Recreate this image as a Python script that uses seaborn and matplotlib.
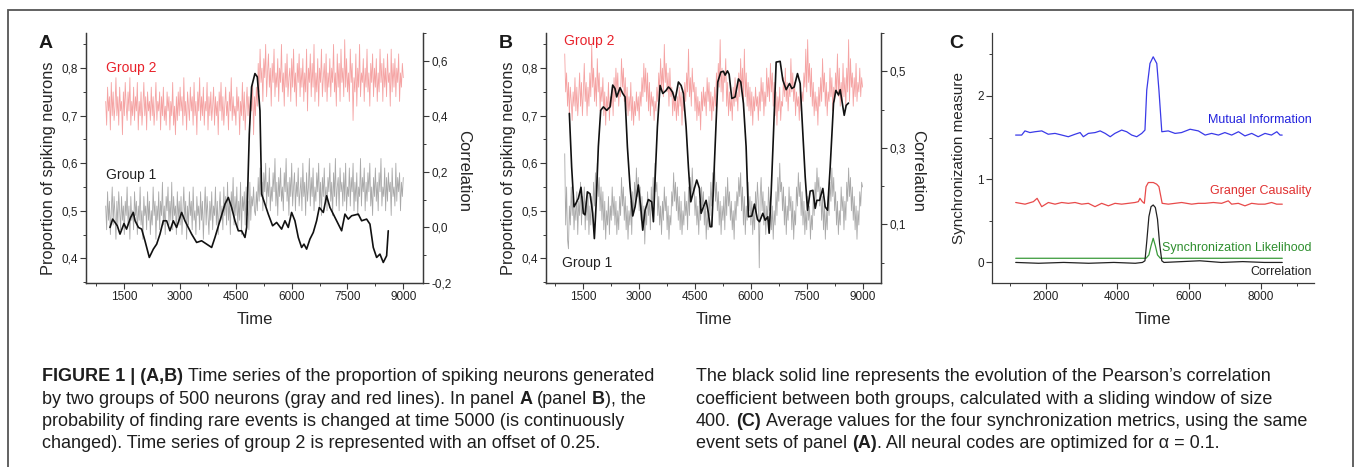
import numpy as np
import matplotlib
matplotlib.use('Agg')
import matplotlib.pyplot as plt
import seaborn as sns
from matplotlib.ticker import MultipleLocator, FixedLocator, FuncFormatter
from matplotlib.patches import Rectangle

# sampling grid of the spiking series (panels A and B)
T = np.arange(1000, 9001, 25)

# panel A, group 2 (offset +0.25) and group 1
A_G2 = [0.73, 0.68, 0.76, 0.71, 0.74, 0.67, 0.77, 0.70, 0.75, 0.69, 0.72, 0.78, 0.70, 0.74, 0.68, 0.76, 0.71, 0.73, 0.66, 0.75,
        0.70, 0.77, 0.72, 0.69, 0.75, 0.71, 0.78, 0.68, 0.73, 0.70, 0.76, 0.69, 0.74, 0.71, 0.77, 0.67, 0.73, 0.70, 0.75, 0.68,
        0.72, 0.77, 0.70, 0.74, 0.67, 0.75, 0.71, 0.73, 0.69, 0.76, 0.70, 0.74, 0.68, 0.72, 0.77, 0.69, 0.73, 0.71, 0.75, 0.67,
        0.74, 0.70, 0.76, 0.69, 0.72, 0.68, 0.75, 0.71, 0.74, 0.67, 0.73, 0.70, 0.77, 0.68, 0.72, 0.66, 0.74, 0.69, 0.75, 0.70,
        0.76, 0.71, 0.74, 0.68, 0.78, 0.70, 0.73, 0.67, 0.75, 0.72, 0.69, 0.76, 0.71, 0.74, 0.68, 0.77, 0.70, 0.73, 0.66, 0.75,
        0.71, 0.78, 0.69, 0.74, 0.70, 0.76, 0.68, 0.73, 0.71, 0.77, 0.67, 0.74, 0.70, 0.75, 0.69, 0.72, 0.76, 0.68, 0.74, 0.70,
        0.73, 0.66, 0.75, 0.71, 0.77, 0.69, 0.74, 0.68, 0.72, 0.76, 0.70, 0.73, 0.67, 0.75, 0.71, 0.78, 0.69, 0.74, 0.70, 0.72,
        0.68, 0.76, 0.71, 0.74, 0.66, 0.73, 0.70, 0.77, 0.69, 0.75, 0.67, 0.72, 0.76, 0.70, 0.74, 0.68, 0.73, 0.71, 0.77, 0.66,
        0.74,
        0.70, 0.76, 0.72, 0.81, 0.75, 0.84, 0.77, 0.80, 0.73, 0.82, 0.78, 0.85, 0.74, 0.79, 0.83, 0.76, 0.80, 0.72, 0.81, 0.77,
        0.84, 0.74, 0.79, 0.76, 0.82, 0.73, 0.80, 0.77, 0.85, 0.75, 0.79, 0.72, 0.81, 0.76, 0.83, 0.74, 0.78, 0.80, 0.73, 0.82,
        0.76, 0.84, 0.75, 0.79, 0.72, 0.81, 0.77, 0.83, 0.74, 0.80, 0.76, 0.82, 0.73, 0.79, 0.75, 0.84, 0.71, 0.80, 0.77, 0.83,
        0.74, 0.81, 0.76, 0.85, 0.73, 0.79, 0.75, 0.82, 0.72, 0.80, 0.77, 0.84, 0.74, 0.78, 0.81, 0.75, 0.83, 0.73, 0.79, 0.76,
        0.82, 0.74, 0.80, 0.77, 0.85, 0.75, 0.79, 0.72, 0.83, 0.76, 0.81, 0.73, 0.84, 0.77, 0.80, 0.74, 0.86, 0.76, 0.82, 0.75,
        0.79, 0.73, 0.84, 0.77, 0.81, 0.69, 0.78, 0.75, 0.83, 0.72, 0.80, 0.76, 0.85, 0.74, 0.79, 0.77, 0.82, 0.73, 0.80, 0.76,
        0.84, 0.75, 0.79, 0.72, 0.81, 0.77, 0.83, 0.74, 0.80, 0.76, 0.82, 0.73, 0.79, 0.75, 0.84, 0.77, 0.81, 0.73, 0.82, 0.76,
        0.80, 0.74, 0.83, 0.77, 0.79, 0.72, 0.84, 0.75, 0.81, 0.76, 0.82, 0.74, 0.80, 0.77, 0.83, 0.73, 0.79, 0.76, 0.81, 0.78]
A_G1 = [0.51, 0.46, 0.54, 0.48, 0.52, 0.45, 0.50, 0.55, 0.47, 0.53, 0.49, 0.44, 0.52, 0.47, 0.54, 0.50, 0.46, 0.53, 0.48, 0.51,
        0.45, 0.52, 0.49, 0.55, 0.47, 0.51, 0.44, 0.53, 0.48, 0.50, 0.46, 0.54, 0.49, 0.52, 0.45, 0.51, 0.48, 0.55, 0.47, 0.50,
        0.44, 0.53, 0.49, 0.51, 0.46, 0.54, 0.48, 0.52, 0.45, 0.50, 0.47, 0.55, 0.49, 0.52, 0.44, 0.51, 0.48, 0.54, 0.46, 0.52,
        0.49, 0.56, 0.47, 0.51, 0.45, 0.53, 0.50, 0.55, 0.47, 0.52, 0.48, 0.56, 0.46, 0.53, 0.49, 0.51, 0.45, 0.54, 0.48, 0.52,
        0.47, 0.53, 0.45, 0.50, 0.55, 0.48, 0.52, 0.44, 0.51, 0.47, 0.54, 0.49, 0.52, 0.46, 0.55, 0.48, 0.50, 0.45, 0.53, 0.49,
        0.51, 0.46, 0.54, 0.48, 0.52, 0.44, 0.50, 0.55, 0.47, 0.53, 0.49, 0.45, 0.52, 0.48, 0.54, 0.46, 0.51, 0.49, 0.55, 0.47,
        0.52, 0.45, 0.50, 0.54, 0.48, 0.51, 0.46, 0.55, 0.49, 0.53, 0.47, 0.56, 0.48, 0.52, 0.45, 0.54, 0.50, 0.57, 0.47, 0.53,
        0.49, 0.55, 0.46, 0.52, 0.48, 0.56, 0.45, 0.53, 0.50, 0.54, 0.47, 0.55, 0.49, 0.52, 0.46, 0.56, 0.48, 0.53, 0.51, 0.55,
        0.50,
        0.49, 0.54, 0.50, 0.57, 0.52, 0.59, 0.53, 0.56, 0.50, 0.58, 0.54, 0.60, 0.51, 0.56, 0.53, 0.59, 0.50, 0.55, 0.52, 0.58,
        0.54, 0.61, 0.51, 0.56, 0.49, 0.57, 0.53, 0.59, 0.52, 0.55, 0.50, 0.58, 0.54, 0.61, 0.52, 0.56, 0.49, 0.57, 0.53, 0.60,
        0.51, 0.55, 0.58, 0.50, 0.56, 0.53, 0.59, 0.51, 0.54, 0.57, 0.50, 0.60, 0.53, 0.56, 0.49, 0.58, 0.52, 0.55, 0.61, 0.51,
        0.57, 0.53, 0.59, 0.50, 0.55, 0.52, 0.58, 0.54, 0.60, 0.51, 0.56, 0.49, 0.57, 0.53, 0.59, 0.52, 0.55, 0.50, 0.57, 0.54,
        0.60, 0.52, 0.56, 0.49, 0.58, 0.53, 0.61, 0.51, 0.55, 0.57, 0.50, 0.59, 0.54, 0.56, 0.51, 0.58, 0.52, 0.60, 0.50, 0.55,
        0.53, 0.59, 0.51, 0.57, 0.54, 0.60, 0.50, 0.56, 0.52, 0.58, 0.49, 0.55, 0.53, 0.61, 0.51, 0.57, 0.54, 0.59, 0.50, 0.56,
        0.52, 0.58, 0.54, 0.60, 0.51, 0.55, 0.49, 0.57, 0.53, 0.59, 0.52, 0.56, 0.50, 0.58, 0.54, 0.61, 0.51, 0.55, 0.53, 0.59,
        0.50, 0.57, 0.52, 0.58, 0.54, 0.56, 0.49, 0.59, 0.53, 0.55, 0.51, 0.60, 0.52, 0.57, 0.54, 0.58, 0.50, 0.56, 0.53, 0.57]

# panel A sliding-window correlation
A_CT = [1115, 1187, 1312, 1384, 1491, 1560, 1670, 1742, 1790, 1880,
        1966, 2055, 2172, 2280, 2370, 2459, 2548, 2638, 2727, 2817,
        2906, 3041, 3130, 3220, 3310, 3444, 3578, 3713, 3848, 3937,
        4071, 4206, 4296, 4385, 4475, 4565, 4654, 4744, 4789, 4860,
        4922, 5012, 5075, 5147, 5192, 5281, 5370, 5487, 5595, 5729,
        5819, 5908, 5998, 6087, 6177, 6267, 6330, 6401, 6490, 6580,
        6670, 6742, 6850, 6939, 7028, 7118, 7208, 7342, 7432, 7521,
        7611, 7790, 7880, 8014, 8104, 8193, 8283, 8372, 8462, 8552,
        8596]
A_CR = [0.00, 0.03, 0.006, -0.024, 0.014, -0.006, 0.036, 0.054, 0.024, 0.0,
        -0.006, -0.048, -0.108, -0.078, -0.06, -0.024, 0.024, 0.024, -0.012, 0.024,
        0.0, 0.054, 0.024, 0.0, -0.024, -0.054, -0.048, -0.06, -0.072, -0.036,
        0.024, 0.084, 0.108, 0.072, 0.024, -0.012, -0.012, -0.036, 0.0, 0.337,
        0.506, 0.554, 0.542, 0.42, 0.12, 0.084, 0.048, 0.006, 0.018, -0.006,
        0.024, 0.0, 0.054, 0.024, -0.036, -0.072, -0.06, -0.078, -0.042, -0.018,
        0.024, 0.072, 0.054, 0.114, 0.072, 0.048, 0.024, -0.012, 0.048, 0.03,
        0.042, 0.048, 0.024, 0.03, 0.012, -0.072, -0.108, -0.096, -0.126, -0.102,
        -0.012]

# panel B, group 2 (offset +0.25) and group 1
B_G2 = [0.83, 0.75, 0.79, 0.72, 0.77, 0.70, 0.76, 0.73, 0.69, 0.75, 0.72, 0.78, 0.71, 0.76, 0.70, 0.74, 0.79, 0.72, 0.77, 0.70,
        0.75, 0.81, 0.73, 0.77, 0.70, 0.76, 0.72, 0.79, 0.74, 0.85, 0.76, 0.80, 0.73, 0.78, 0.72, 0.82, 0.75, 0.79, 0.71, 0.76,
        0.73, 0.78, 0.70, 0.75, 0.68, 0.74, 0.71, 0.77, 0.69, 0.74, 0.72, 0.76, 0.70, 0.78, 0.73, 0.80, 0.75, 0.79, 0.72, 0.76,
        0.74, 0.82, 0.76, 0.80, 0.73, 0.78, 0.71, 0.76, 0.70, 0.74, 0.71, 0.77, 0.69, 0.74, 0.68, 0.73, 0.70, 0.75, 0.71, 0.74,
        0.69, 0.75, 0.72, 0.78, 0.74, 0.81, 0.75, 0.80, 0.73, 0.79, 0.71, 0.77, 0.70, 0.75, 0.72, 0.74, 0.69, 0.73, 0.71, 0.76,
        0.73, 0.79, 0.75, 0.82, 0.76, 0.80, 0.74, 0.85, 0.77, 0.81, 0.75, 0.79, 0.72, 0.80, 0.74, 0.76, 0.70, 0.75, 0.71, 0.74,
        0.69, 0.74, 0.70, 0.76, 0.72, 0.75, 0.68, 0.74, 0.71, 0.77, 0.73, 0.79, 0.75, 0.84, 0.74, 0.78, 0.72, 0.80, 0.75, 0.77,
        0.71, 0.76, 0.69, 0.74, 0.70, 0.73, 0.67, 0.75, 0.71, 0.76, 0.72, 0.75, 0.70, 0.78, 0.73, 0.77, 0.71, 0.75, 0.69, 0.74,
        0.71, 0.76, 0.72, 0.79, 0.74, 0.81, 0.76, 0.86, 0.75, 0.80, 0.73, 0.79, 0.77, 0.82, 0.72, 0.77, 0.70, 0.75, 0.71, 0.74,
        0.69, 0.76, 0.72, 0.78, 0.73, 0.75, 0.71, 0.79, 0.74, 0.82, 0.75, 0.80, 0.73, 0.84, 0.74, 0.79, 0.72, 0.77, 0.71, 0.76,
        0.70, 0.75, 0.68, 0.74, 0.71, 0.76, 0.72, 0.74, 0.69, 0.75, 0.71, 0.78, 0.73, 0.77, 0.70, 0.75, 0.72, 0.80, 0.74, 0.78,
        0.73, 0.81, 0.75, 0.79, 0.72, 0.77, 0.70, 0.75, 0.68, 0.74, 0.71, 0.76, 0.69, 0.73, 0.72, 0.78, 0.74, 0.80, 0.73, 0.77,
        0.71, 0.76, 0.74, 0.82, 0.75, 0.79, 0.73, 0.77, 0.70, 0.75, 0.72, 0.74, 0.69, 0.76, 0.71, 0.75, 0.73, 0.79, 0.76, 0.84,
        0.75, 0.86, 0.77, 0.81, 0.74, 0.80, 0.72, 0.77, 0.70, 0.75, 0.71, 0.74, 0.68, 0.76, 0.72, 0.78, 0.73, 0.82, 0.75, 0.79,
        0.72, 0.77, 0.70, 0.75, 0.73, 0.80, 0.74, 0.78, 0.71, 0.76, 0.73, 0.79, 0.75, 0.83, 0.74, 0.80, 0.72, 0.77, 0.73, 0.81,
        0.74, 0.78, 0.72, 0.80, 0.75, 0.86, 0.73, 0.82, 0.76, 0.79, 0.72, 0.78, 0.74, 0.81, 0.73, 0.77, 0.75, 0.80, 0.74, 0.78,
        0.76]
B_G1 = [0.62, 0.47, 0.55, 0.44, 0.42, 0.51, 0.47, 0.55, 0.49, 0.53, 0.46, 0.51, 0.48, 0.54, 0.45, 0.52, 0.49, 0.56, 0.47, 0.53,
        0.50, 0.55, 0.46, 0.52, 0.48, 0.54, 0.45, 0.51, 0.47, 0.53, 0.49, 0.56, 0.51, 0.58, 0.52, 0.60, 0.53, 0.57, 0.50, 0.55,
        0.48, 0.54, 0.46, 0.52, 0.44, 0.50, 0.47, 0.53, 0.45, 0.51, 0.48, 0.55, 0.49, 0.53, 0.47, 0.52, 0.45, 0.50, 0.46, 0.53,
        0.49, 0.57, 0.51, 0.55, 0.48, 0.53, 0.46, 0.51, 0.44, 0.50, 0.47, 0.52, 0.45, 0.54, 0.49, 0.56, 0.52, 0.59, 0.53, 0.57,
        0.50, 0.55, 0.48, 0.53, 0.46, 0.51, 0.43, 0.50, 0.47, 0.54, 0.49, 0.52, 0.46, 0.55, 0.50, 0.57, 0.52, 0.60, 0.54, 0.56,
        0.49, 0.53, 0.47, 0.51, 0.45, 0.52, 0.48, 0.55, 0.50, 0.53, 0.46, 0.51, 0.44, 0.49, 0.47, 0.54, 0.51, 0.58, 0.52, 0.56,
        0.50, 0.55, 0.48, 0.53, 0.46, 0.52, 0.45, 0.50, 0.47, 0.54, 0.49, 0.52, 0.46, 0.55, 0.49, 0.57, 0.52, 0.59, 0.54, 0.55,
        0.49, 0.53, 0.47, 0.51, 0.45, 0.52, 0.48, 0.55, 0.51, 0.54, 0.47, 0.52, 0.44, 0.50, 0.46, 0.53, 0.49, 0.56, 0.51, 0.58,
        0.53, 0.60, 0.52, 0.56, 0.50, 0.54, 0.47, 0.52, 0.45, 0.51, 0.48, 0.53, 0.46, 0.55, 0.49, 0.57, 0.51, 0.54, 0.48, 0.52,
        0.46, 0.50, 0.44, 0.52, 0.48, 0.54, 0.51, 0.57, 0.53, 0.58, 0.50, 0.55, 0.47, 0.53, 0.45, 0.51, 0.48, 0.56, 0.50, 0.53,
        0.47, 0.52, 0.45, 0.50, 0.46, 0.54, 0.49, 0.56, 0.52, 0.38, 0.53, 0.57, 0.50, 0.54, 0.47, 0.52, 0.45, 0.51, 0.48, 0.55,
        0.50, 0.53, 0.46, 0.51, 0.44, 0.50, 0.47, 0.54, 0.49, 0.57, 0.52, 0.60, 0.54, 0.56, 0.50, 0.55, 0.47, 0.53, 0.45, 0.51,
        0.48, 0.55, 0.50, 0.53, 0.46, 0.52, 0.44, 0.50, 0.47, 0.55, 0.51, 0.58, 0.53, 0.56, 0.49, 0.54, 0.47, 0.52, 0.45, 0.50,
        0.46, 0.53, 0.48, 0.51, 0.44, 0.49, 0.46, 0.53, 0.49, 0.56, 0.52, 0.59, 0.54, 0.57, 0.51, 0.55, 0.48, 0.53, 0.46, 0.52,
        0.44, 0.50, 0.46, 0.53, 0.49, 0.56, 0.52, 0.59, 0.53, 0.57, 0.50, 0.54, 0.47, 0.52, 0.45, 0.50, 0.47, 0.55, 0.50, 0.53,
        0.46, 0.52, 0.48, 0.56, 0.52, 0.59, 0.53, 0.57, 0.50, 0.55, 0.48, 0.53, 0.46, 0.51, 0.44, 0.50, 0.47, 0.54, 0.51, 0.56,
        0.55]

# panel B sliding-window correlation
B_CT = [1124, 1186, 1249, 1300, 1366, 1437, 1500, 1545, 1608, 1680,
        1751, 1796, 1840, 1903, 1966, 2038, 2127, 2217, 2289, 2350,
        2396, 2486, 2558, 2620, 2683, 2754, 2826, 2889, 2978, 3041,
        3095, 3158, 3247, 3337, 3382, 3426, 3489, 3561, 3633, 3722,
        3785, 3830, 3893, 3964, 4054, 4126, 4188, 4260, 4322, 4385,
        4457, 4546, 4618, 4663, 4726, 4797, 4860, 4905, 4950, 5039,
        5111, 5192, 5263, 5308, 5371, 5416, 5487, 5577, 5666, 5729,
        5800, 5872, 5935, 6025, 6096, 6177, 6231, 6321, 6383, 6455,
        6491, 6544, 6607, 6679, 6786, 6858, 6948, 7037, 7100, 7163,
        7252, 7324, 7396, 7459, 7522, 7593, 7665, 7728, 7773, 7845,
        7933, 7996, 8059, 8130, 8220, 8283, 8355, 8399, 8471, 8507,
        8560, 8623]
B_CR = [0.39, 0.25, 0.146, 0.155, 0.168, 0.197, 0.129, 0.125, 0.185, 0.18,
        0.129, 0.063, 0.146, 0.303, 0.398, 0.407, 0.398, 0.407, 0.464, 0.455,
        0.433, 0.457, 0.442, 0.433, 0.303, 0.198, 0.122, 0.146, 0.203, 0.146,
        0.085, 0.137, 0.165, 0.159, 0.107, 0.216, 0.355, 0.463, 0.442, 0.45,
        0.459, 0.455, 0.446, 0.424, 0.472, 0.463, 0.442, 0.355, 0.25, 0.159,
        0.185, 0.216, 0.194, 0.129, 0.146, 0.163, 0.129, 0.094, 0.094, 0.303,
        0.472, 0.498, 0.5, 0.49, 0.501, 0.492, 0.429, 0.433, 0.48, 0.472,
        0.416, 0.303, 0.12, 0.122, 0.153, 0.113, 0.107, 0.129, 0.111, 0.12,
        0.077, 0.181, 0.337, 0.524, 0.526, 0.477, 0.452, 0.468, 0.455, 0.459,
        0.494, 0.468, 0.337, 0.224, 0.137, 0.187, 0.189, 0.142, 0.163, 0.163,
        0.194, 0.146, 0.137, 0.25, 0.416, 0.45, 0.438, 0.452, 0.407, 0.385,
        0.411, 0.417]

# panel C, four synchronization measures
MI_T = [1160, 1330, 1420, 1560, 1700, 1890, 2070, 2260, 2450, 2630,
        2820, 2960, 3050, 3190, 3380, 3520, 3660, 3800, 3930, 4120,
        4260, 4400, 4540, 4680, 4770, 4820, 4910, 5000, 5100, 5160,
        5240, 5420, 5610, 5790, 6030, 6260, 6450, 6630, 6820, 7000,
        7190, 7380, 7560, 7750, 7930, 8120, 8300, 8450, 8540, 8600]
MI_V = [1.53, 1.53, 1.58, 1.56, 1.57, 1.58, 1.54, 1.55, 1.53, 1.51,
        1.54, 1.56, 1.51, 1.55, 1.56, 1.58, 1.55, 1.51, 1.55, 1.59,
        1.57, 1.53, 1.51, 1.55, 1.59, 2.07, 2.39, 2.47, 2.39, 2.07,
        1.57, 1.58, 1.55, 1.56, 1.60, 1.58, 1.53, 1.55, 1.53, 1.56,
        1.53, 1.57, 1.52, 1.55, 1.51, 1.55, 1.53, 1.57, 1.53, 1.53]
GC_T = [1163, 1423, 1656, 1760, 1888, 2074, 2260, 2446, 2632, 2818,
        3004, 3190, 3376, 3562, 3748, 3934, 4120, 4306, 4492, 4585,
        4630, 4697, 4753, 4800, 4864, 5004, 5097, 5160, 5250, 5422,
        5608, 5794, 6073, 6259, 6445, 6678, 6910, 7096, 7189, 7375,
        7561, 7747, 7933, 8119, 8305, 8445, 8603]
GC_V = [0.72, 0.70, 0.73, 0.77, 0.67, 0.72, 0.70, 0.72, 0.71, 0.72,
        0.70, 0.71, 0.67, 0.71, 0.68, 0.71, 0.70, 0.71, 0.72, 0.73,
        0.77, 0.73, 0.71, 0.91, 0.96, 0.96, 0.94, 0.91, 0.71, 0.70,
        0.71, 0.72, 0.70, 0.71, 0.71, 0.72, 0.71, 0.74, 0.70, 0.71,
        0.68, 0.71, 0.70, 0.70, 0.72, 0.70, 0.70]
CO_T = [1163, 1800, 2500, 3200, 3900, 4500, 4700, 4770, 4820, 4880,
        4940, 5000, 5060, 5120, 5180, 5240, 5300, 5800, 6300, 6900,
        7500, 8100, 8603]
CO_V = [0.0, -0.01, 0.0, -0.01, 0.0, -0.01, 0.0, 0.02, 0.25, 0.55,
        0.67, 0.69, 0.66, 0.52, 0.22, 0.02, 0.0, 0.01, 0.02, 0.0,
        0.01, 0.0, 0.0]
SL_T = [1163, 4800, 4880, 4940, 5000, 5060, 5120, 5200, 8603]
SL_V = [0.05, 0.05, 0.09, 0.20, 0.29, 0.20, 0.09, 0.05, 0.05]

RED_NOISE = '#f5a3a3'
GRAY_NOISE = '#a9a9a9'
AXIS = '#3a3a3a'

sns.set_style("ticks")
plt.rcParams['font.family'] = ['Liberation Sans', 'DejaVu Sans']
plt.rcParams['axes.edgecolor'] = AXIS
plt.rcParams['text.color'] = '#1a1a1a'

W, H = 1355, 467
fig = plt.figure(figsize=(W / 100, H / 100), dpi=100)


def px_axes(l, t, r, b):
    return fig.add_axes([l / W, 1 - b / H, (r - l) / W, (b - t) / H])


def comma(v, _):
    if abs(v) < 1e-9:
        v = 0.0
    return f"{v:.1f}".replace('.', ',')


def ticks(ax):
    ax.tick_params(which='major', direction='out', length=4, width=0.8,
                   labelsize=8.5, color=AXIS, labelcolor='#222', pad=2)
    ax.tick_params(which='minor', direction='out', length=2.5, width=0.7,
                   color=AXIS)
    for s in ax.spines.values():
        s.set_linewidth(0.9)
    ax.spines['top'].set_visible(False)


def noise_panel(l, r, xlim, g2, g1, ct, cr, rlim, rmajor, rminor):
    ax = px_axes(l, 33, r, 283)
    sns.lineplot(x=T, y=g2, ax=ax, color=RED_NOISE, lw=0.6, errorbar=None)
    sns.lineplot(x=T, y=g1, ax=ax, color=GRAY_NOISE, lw=0.6, errorbar=None)
    ax.set_xlim(*xlim)
    ax.set_ylim(0.348, 0.874)
    ax.xaxis.set_major_locator(MultipleLocator(1500))
    ax.xaxis.set_minor_locator(MultipleLocator(750))
    ax.yaxis.set_major_locator(MultipleLocator(0.1))
    ax.yaxis.set_minor_locator(MultipleLocator(0.05))
    ax.yaxis.set_major_formatter(FuncFormatter(comma))
    ax.set_xlabel("Time", fontsize=12, labelpad=6)
    ax.set_ylabel("Proportion of spiking neurons", fontsize=11.8, labelpad=4, y=0.458)
    ticks(ax)
    ax2 = ax.twinx()
    sns.lineplot(x=ct, y=cr, ax=ax2, color='#111111', lw=1.2, errorbar=None)
    ax2.set_ylim(*rlim)
    ax2.yaxis.set_major_locator(rmajor)
    ax2.yaxis.set_minor_locator(rminor)
    ax2.yaxis.set_major_formatter(FuncFormatter(comma))
    ax2.set_ylabel("Correlation", fontsize=12, rotation=270, labelpad=14, y=0.446)
    ticks(ax2)
    return ax, ax2


axA, axA2 = noise_panel(86, 423, (470, 9530), A_G2, A_G1, A_CT, A_CR,
                        (-0.2, 0.70), MultipleLocator(0.2), MultipleLocator(0.1))
axA.text(1008, 0.80, "Group 2", color='#e8222b', fontsize=10, va='center')
axA.text(1000, 0.575, "Group 1", color='#222', fontsize=10, va='center')

axB, axB2 = noise_panel(546, 881, (497, 9495), B_G2, B_G1, B_CT, B_CR,
                        (-0.053, 0.6), FixedLocator([0.1, 0.3, 0.5]),
                        FixedLocator([0.0, 0.2, 0.4, 0.6]))
axB.text(981, 0.857, "Group 2", color='#e8222b', fontsize=10, va='center')
axB.text(940, 0.39, "Group 1", color='#222', fontsize=10, va='center')

# panel C
axC = px_axes(992, 33, 1314, 283)
sns.lineplot(x=MI_T, y=MI_V, ax=axC, color='#3a3ae8', lw=0.9, errorbar=None)
sns.lineplot(x=GC_T, y=GC_V, ax=axC, color='#e84a4a', lw=0.9, errorbar=None)
sns.lineplot(x=SL_T, y=SL_V, ax=axC, color='#3a9a3a', lw=0.9, errorbar=None)
sns.lineplot(x=CO_T, y=CO_V, ax=axC, color='#222222', lw=0.9, errorbar=None)
axC.set_xlim(501, 9488)
axC.set_ylim(-0.247, 2.756)
axC.xaxis.set_major_locator(MultipleLocator(2000))
axC.xaxis.set_minor_locator(MultipleLocator(1000))
axC.yaxis.set_major_locator(MultipleLocator(1))
axC.yaxis.set_minor_locator(MultipleLocator(0.5))
axC.set_xlabel("Time", fontsize=12, labelpad=6)
axC.set_ylabel("Synchronization measure", fontsize=11, labelpad=8)
ticks(axC)
axC.spines['right'].set_visible(False)
axC.text(9420, 1.71, "Mutual Information", color='#2222dd', fontsize=9, ha='right', va='center')
axC.text(9420, 0.86, "Granger Causality", color='#e03030', fontsize=9, ha='right', va='center')
axC.text(9420, 0.17, "Synchronization Likelihood", color='#2f8f2f', fontsize=9, ha='right', va='center')
axC.text(9420, -0.11, "Correlation", color='#222', fontsize=9, ha='right', va='center')

# panel letters
for lx, letter in [(39, "A"), (499, "B"), (949, "C")]:
    fig.text(lx / W, 1 - 44 / H, letter, fontsize=14, fontweight='bold', va='center')

# frame around the figure
fig.add_artist(Rectangle((8 / W, -0.05), (1353 - 8) / W, 1 - 10 / H + 0.05,
                         transform=fig.transFigure, fill=False, ec='#555', lw=1.3))

# caption, with bold runs drawn piece by piece
CAP_SIZE = 13
renderer = fig.canvas.get_renderer()


def text_width(s, bold):
    t = fig.text(0, 0, s, fontsize=CAP_SIZE, fontweight='bold' if bold else 'normal')
    w = t.get_window_extent(renderer).width
    t.remove()
    return w


def rich_line(x0, yc, parts):
    # spaces only at the end of a run; advance measured against a following "I"
    x = x0
    for s, bold in parts:
        fig.text(x / W, 1 - yc / H, s.rstrip(), fontsize=CAP_SIZE, va='center',
                 fontweight='bold' if bold else 'normal', color='#1e1e1e')
        x += text_width(s + "I", bold) - text_width("I", bold)


LEFT = [
    [("FIGURE 1 | (A,B) ", True), ("Time series of the proportion of spiking neurons generated", False)],
    [("by two groups of 500 neurons (gray and red lines). In panel ", False), ("A ", True),
     ("(panel ", False), ("B", True), ("), the", False)],
    [("probability of finding rare events is changed at time 5000 (is continuously", False)],
    [("changed). Time series of group 2 is represented with an offset of 0.25.", False)],
]
RIGHT = [
    [("The black solid line represents the evolution of the Pearson\u2019s correlation", False)],
    [("coefficient between both groups, calculated with a sliding window of size", False)],
    [("400. ", False), ("(C) ", True), ("Average values for the four synchronization metrics, using the same", False)],
    [("event sets of panel ", False), ("(A)", True), (". All neural codes are optimized for \u03b1 = 0.1.", False)],
]
for yc, lp, rp in zip([376.5, 399, 421.5, 444], LEFT, RIGHT):
    rich_line(42, yc, lp)
    rich_line(696, yc, rp)

fig.savefig("out.png", dpi=100)
